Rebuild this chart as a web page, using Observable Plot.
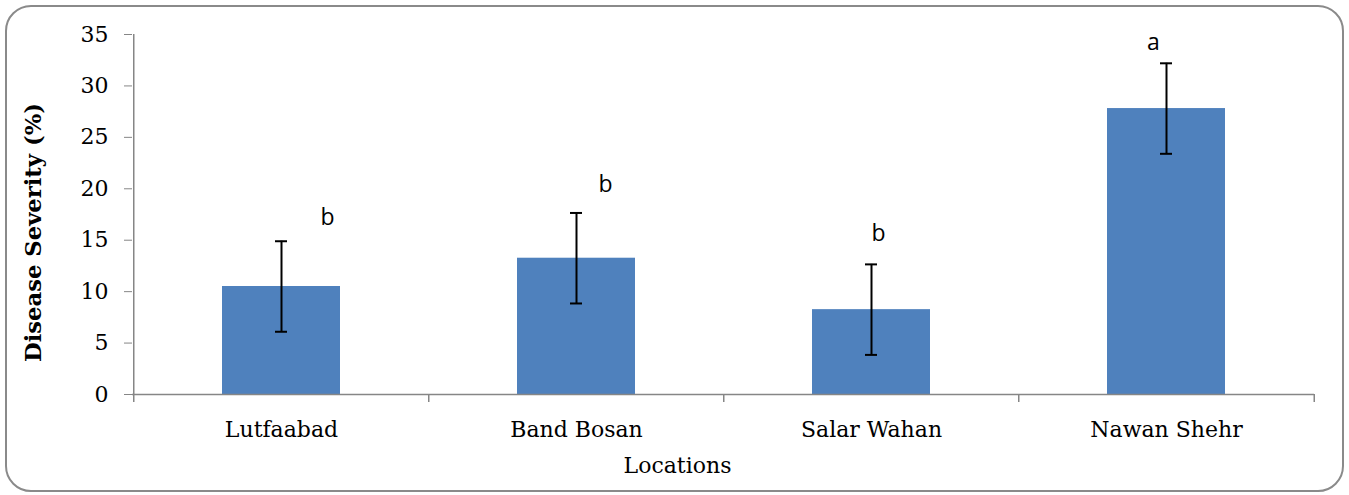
<!DOCTYPE html>
<html><head><meta charset="utf-8">
<script src="https://cdn.jsdelivr.net/npm/d3@7"></script>
<script src="https://cdn.jsdelivr.net/npm/@observablehq/plot@0.6"></script>
<style>
html,body{margin:0;padding:0;background:#fff;}
#wrap{position:relative;width:1349px;height:495px;overflow:hidden;}
#frame{position:absolute;left:5px;top:5px;width:1335px;height:483px;border:2px solid #8a8a8a;border-radius:26px;}
#chart{position:absolute;left:0;top:0;}
</style></head><body>
<div id="wrap"><div id="frame"></div><div id="chart"></div></div>
<script>
const categories = ["Lutfaabad", "Band Bosan", "Salar Wahan", "Nawan Shehr"];
const severity = [10.5, 13.25, 8.25, 27.8];
const stdError = [4.4, 4.4, 4.4, 4.4];
const groupLetters = ["b", "b", "b", "a"];
const yTicks = [0, 5, 10, 15, 20, 25, 30, 35];

const W = 1349, H = 495, ML = 132, MR = 35, MT = 34, MB = 101;
const step = (W - ML - MR) / categories.length;
const axisGray = "#868686";

const data = categories.map((c, i) => ({
  cat: c, v: severity[i], lo: severity[i] - stdError[i], hi: severity[i] + stdError[i], letter: groupLetters[i]
}));
const nudges = [[46, -24], [29, -28], [7, -31], [-13, -21]];

const plot = Plot.plot({
  width: W, height: H,
  marginLeft: ML, marginRight: MR, marginTop: MT, marginBottom: MB,
  style: {fontFamily: "DejaVu Serif", fontSize: "22px", color: "#000", background: "transparent", overflow: "visible"},
  x: {domain: categories, paddingInner: 0.6, paddingOuter: 0.3, label: null},
  y: {domain: [0, 35], label: null},
  marks: [
    Plot.barY(data, {x: "cat", y: "v", fill: "#4F81BD"}),
    Plot.ruleY([0], {stroke: axisGray, strokeWidth: 1.5}),
    Plot.ruleX([categories[0]], {y1: 0, y2: 35, dx: -step / 2, stroke: axisGray, strokeWidth: 1.5}),
    Plot.ruleX(categories, {x: d => d, y1: 0, y2: 0, dx: -step / 2, insetBottom: -8, stroke: axisGray, strokeWidth: 1.5}),
    Plot.ruleX([categories[categories.length - 1]], {y1: 0, y2: 0, dx: step / 2, insetBottom: -8, stroke: axisGray, strokeWidth: 1.5}),
    Plot.axisY({ticks: yTicks, tickSize: 8, tickPadding: 16, stroke: axisGray, fill: "#000", label: null}),
    Plot.axisX({tickSize: 0, tickPadding: 27, label: null, fill: "#000"}),
    Plot.ruleX(data, {x: "cat", y1: "lo", y2: "hi", stroke: "#000", strokeWidth: 2}),
    Plot.tickY(data, {x: "cat", y: "lo", insetLeft: 53, insetRight: 53, stroke: "#000", strokeWidth: 2}),
    Plot.tickY(data, {x: "cat", y: "hi", insetLeft: 53, insetRight: 53, stroke: "#000", strokeWidth: 2}),
    ...data.map((d, i) => Plot.text([d], {
      x: "cat", y: "hi", text: "letter", dx: nudges[i][0], dy: nudges[i][1],
      fontFamily: "Open Sans", fontSize: 23, fill: "#000"
    })),
    Plot.text(["Disease Severity (%)"], {frameAnchor: "left", textAnchor: "middle", lineAnchor: "middle", rotate: -90, dx: -98.5, dy: 18, fontWeight: "bold", fontSize: 22.7, fill: "#000"}),
    Plot.text(["Locations"], {frameAnchor: "bottom", textAnchor: "middle", lineAnchor: "middle", dx: -46, dy: 71, fontSize: 22, fill: "#000"})
  ]
});
document.getElementById("chart").appendChild(plot);
</script>
</body></html>
